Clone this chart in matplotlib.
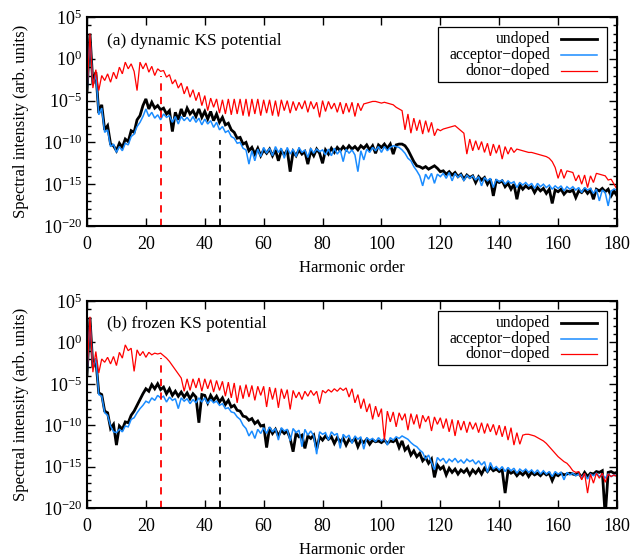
import numpy as np
import matplotlib
matplotlib.use('Agg')
import matplotlib.pyplot as plt
from matplotlib.ticker import FixedLocator, NullFormatter, FuncFormatter
from matplotlib.patches import Rectangle
from matplotlib.lines import Line2D

plt.rcParams['font.family'] = ['Liberation Serif', 'DejaVu Serif']
plt.rcParams['mathtext.fontset'] = 'custom'
plt.rcParams['mathtext.rm'] = 'Liberation Serif'
plt.rcParams['mathtext.it'] = 'Liberation Serif:italic'
plt.rcParams['font.size'] = 12

# harmonic orders 0..180
harmonics = np.arange(0, 181)

# log10 of the spectral intensity, one value per harmonic order
# (a) dynamic KS potential
dyn_undoped = [
    -4.0, 3.0, -3.0, -1.6, -6.5, -5.5, -8.5, -8.0, -10.2, -10.4,
    -11.0, -10.1, -10.6, -9.6, -9.9, -8.6, -8.8, -7.3, -6.8, -5.6,
    -4.8, -6.0, -5.2, -5.9, -5.6, -6.1, -5.9, -6.6, -6.2, -8.7,
    -6.4, -7.3, -6.0, -6.9, -5.9, -6.6, -6.2, -6.9, -6.0, -7.0,
    -6.3, -7.2, -6.3, -7.4, -6.6, -7.6, -7.0, -7.9, -7.7, -8.5,
    -8.8, -9.5, -9.4, -10.2, -10.0, -11.0, -10.6, -11.4, -10.7, -11.6,
    -10.9, -11.3, -10.8, -11.6, -10.9, -12.2, -11.0, -11.5, -10.9, -13.5,
    -11.1, -11.6, -10.9, -11.4, -11.1, -12.6, -11.0, -11.6, -10.8, -11.3,
    -12.5, -10.9, -11.4, -10.7, -11.2, -10.6, -11.0, -10.5, -10.9, -10.4,
    -10.8, -10.5, -10.9, -10.4, -10.7, -10.3, -10.9, -10.4, -11.3, -10.3,
    -10.6, -10.2, -10.7, -10.2, -11.4, -10.3, -10.2, -10.2, -10.4, -10.9,
    -11.6, -12.3, -12.8, -12.9, -13.1, -12.9, -13.2, -13.0, -12.8, -13.1,
    -13.5, -13.4, -13.8, -13.5, -13.9, -13.6, -14.1, -13.8, -14.4, -13.9,
    -14.2, -14.0, -14.8, -14.1, -14.5, -14.2, -15.0, -14.4, -16.4, -14.6,
    -14.8, -14.6, -15.3, -14.9, -15.6, -15.0, -16.8, -15.1, -15.6, -15.2,
    -15.5, -15.3, -16.0, -15.4, -15.8, -15.5, -16.1, -15.6, -17.3, -15.7,
    -15.9, -15.6, -16.2, -15.8, -15.9, -15.7, -16.6, -15.8, -16.0, -15.6,
    -16.1, -15.7, -16.8, -15.6, -15.8, -15.5, -15.9, -15.6, -16.4, -15.8,
    -16.4,
]
dyn_acceptor = [
    -4.0, 2.8, -3.2, -1.8, -6.7, -5.9, -8.8, -8.5, -10.5, -10.2,
    -11.2, -10.5, -11.0, -10.1, -10.3, -9.3, -9.0, -8.1, -7.6, -6.9,
    -6.0, -6.9, -6.4, -7.1, -6.7, -7.3, -6.6, -7.0, -6.8, -7.6,
    -6.9, -7.8, -6.9, -7.4, -7.0, -7.5, -6.9, -7.6, -7.1, -7.9,
    -7.2, -7.8, -7.4, -8.2, -7.6, -8.5, -8.1, -8.8, -8.6, -9.3,
    -9.5, -10.1, -10.0, -10.7, -10.9, -12.6, -11.0, -12.2, -10.8, -11.7,
    -10.6, -11.3, -10.7, -11.6, -10.5, -11.2, -10.7, -11.9, -10.6, -11.4,
    -10.8, -11.7, -10.6, -11.2, -10.9, -11.8, -10.7, -11.3, -10.8, -11.1,
    -10.9, -11.5, -10.8, -11.6, -10.7, -11.4, -10.9, -12.3, -10.8, -11.3,
    -10.9, -11.5, -13.5, -11.0, -12.1, -10.8, -11.2, -10.6, -11.0, -10.5,
    -11.2, -10.5, -11.0, -10.6, -10.4, -10.5, -10.6, -10.9, -11.3, -11.9,
    -12.2, -12.9, -13.4, -14.0, -15.2, -13.8, -14.4, -13.7, -14.9, -13.8,
    -14.1, -13.7, -14.3, -13.6, -14.6, -13.7, -14.2, -13.8, -14.6, -13.9,
    -14.3, -14.0, -14.5, -14.1, -15.2, -14.2, -14.6, -14.3, -15.4, -14.4,
    -14.7, -14.5, -15.0, -14.6, -14.9, -14.7, -15.4, -14.8, -15.1, -14.8,
    -15.2, -14.9, -15.5, -14.9, -15.3, -15.0, -15.4, -15.1, -15.6, -15.2,
    -15.5, -15.2, -15.8, -15.3, -15.6, -15.3, -15.7, -15.4, -16.0, -15.4,
    -15.7, -15.5, -16.1, -15.6, -17.0, -15.7, -16.0, -17.6, -15.8, -15.6,
    -15.7,
]
dyn_donor = [
    -4.0, 3.0, -3.5, -1.3, -3.8, -2.0, -2.6, -1.8, -2.8, -1.6,
    -2.4, -1.0, -1.8, -0.4, -1.2, -0.6, -1.5, -3.8, -0.4, -1.2,
    -0.5, -1.6, -0.9, -2.0, -1.2, -1.5, -1.4, -2.2, -1.9, -3.0,
    -2.5, -3.5, -2.9, -4.2, -3.3, -4.6, -3.7, -5.0, -4.0, -5.6,
    -4.4, -6.2, -4.7, -5.8, -4.8, -6.5, -4.9, -6.6, -4.8, -6.7,
    -4.8, -6.6, -4.8, -6.8, -4.8, -6.9, -4.8, -6.6, -4.8, -6.8,
    -4.9, -6.5, -4.9, -6.8, -5.0, -6.9, -4.9, -6.2, -5.0, -6.5,
    -5.1, -6.2, -5.2, -6.0, -5.0, -6.4, -5.1, -6.0, -5.2, -7.0,
    -5.0, -6.3, -5.1, -6.0, -5.3, -6.4, -5.2, -6.6, -5.3, -6.4,
    -5.2, -6.9, -5.3, -6.2, -5.4, -5.3, -5.2, -5.1, -5.1, -5.2,
    -5.3, -5.2, -5.3, -5.4, -5.5, -5.8, -6.0, -6.2, -8.5, -6.6,
    -8.9, -7.1, -8.6, -7.3, -9.0, -7.4, -8.8, -7.6, -9.2, -8.4,
    -8.6, -8.4, -8.3, -8.2, -8.1, -8.0, -8.3, -8.6, -8.9, -11.4,
    -9.6, -11.0, -9.8, -10.9, -9.9, -11.2, -10.1, -11.6, -10.2, -11.3,
    -10.3, -12.0, -10.5, -11.4, -10.6, -11.2, -10.8, -10.9, -11.0, -11.1,
    -11.2, -11.2, -11.3, -11.4, -11.5, -11.6, -11.7, -11.9, -12.3, -13.0,
    -14.3, -13.2, -14.3, -13.4, -13.5, -13.6, -14.6, -13.9, -15.0, -13.9,
    -15.4, -14.0, -14.8, -13.7, -13.8, -13.9, -14.0, -14.5, -14.4, -15.0,
    -15.6,
]

# (b) frozen KS potential
frz_undoped = [
    -4.0, 3.0, -3.0, -2.1, -6.1, -6.3, -8.3, -8.5, -10.4, -9.9,
    -12.4, -10.1, -10.5, -9.6, -9.7, -8.8, -8.3, -7.6, -6.9, -6.2,
    -5.6, -5.9, -5.1, -5.6, -5.0, -5.7, -5.4, -6.2, -5.6, -6.4,
    -5.9, -6.5, -6.0, -6.6, -6.1, -6.8, -6.2, -6.6, -9.7, -6.3,
    -6.4, -7.3, -6.4, -7.0, -6.5, -7.2, -6.7, -7.5, -7.0, -7.8,
    -7.6, -8.2, -8.3, -8.9, -9.0, -9.4, -9.2, -9.8, -9.5, -10.1,
    -10.0, -12.7, -10.3, -11.0, -10.5, -11.3, -10.6, -11.0, -10.7, -11.6,
    -13.2, -11.0, -11.4, -11.2, -12.8, -11.3, -11.6, -11.2, -12.9, -11.4,
    -11.8, -11.3, -11.7, -11.4, -12.2, -11.5, -12.0, -11.6, -12.4, -11.7,
    -12.0, -11.6, -12.6, -11.8, -12.1, -11.7, -12.3, -11.8, -12.0, -11.9,
    -12.1, -11.8, -12.2, -11.9, -12.0, -11.7, -12.7, -11.9, -13.0, -12.6,
    -13.6, -13.1, -13.8, -13.4, -14.3, -13.9, -14.6, -14.1, -16.3, -14.8,
    -15.3, -15.0, -16.0, -15.2, -15.7, -15.3, -15.9, -15.4, -15.7, -15.3,
    -16.0, -15.4, -15.8, -15.3, -15.9, -15.2, -15.6, -15.1, -15.5, -15.3,
    -15.6, -15.4, -18.2, -15.5, -15.8, -15.6, -16.1, -15.7, -16.0, -15.6,
    -16.2, -15.7, -16.0, -15.8, -16.1, -15.7, -16.0, -15.8, -16.7, -15.9,
    -16.1, -15.8, -16.0, -15.9, -15.8, -15.9, -16.0, -15.8, -16.3, -15.7,
    -16.2, -15.8, -15.9, -15.6, -15.7, -15.5, -21.0, -15.7, -15.6, -15.8,
    -15.7,
]
frz_acceptor = [
    -4.0, 2.9, -3.1, -1.9, -6.3, -6.5, -8.5, -8.8, -10.1, -10.8,
    -10.9, -10.5, -10.8, -10.1, -10.2, -9.3, -9.1, -8.5, -8.0, -7.6,
    -7.1, -7.3, -6.7, -7.0, -6.4, -6.7, -6.5, -7.2, -6.6, -7.0,
    -6.8, -8.0, -6.7, -7.1, -6.8, -7.4, -6.9, -7.3, -6.7, -7.2,
    -6.7, -7.4, -6.9, -7.3, -7.1, -7.6, -7.4, -8.0, -7.9, -8.4,
    -8.5, -9.0, -9.3, -10.0, -10.4, -11.3, -10.7, -11.6, -10.5, -11.0,
    -10.3, -11.0, -10.2, -10.8, -10.4, -11.8, -10.3, -10.7, -10.5, -11.9,
    -10.4, -10.9, -10.6, -12.6, -10.5, -11.2, -10.7, -11.3, -13.5, -10.8,
    -11.1, -10.9, -11.8, -10.8, -11.2, -11.0, -12.8, -11.1, -11.5, -11.2,
    -12.2, -11.3, -11.7, -11.4, -12.9, -11.5, -11.8, -11.6, -12.0, -11.5,
    -11.9, -11.6, -12.4, -11.5, -11.8, -11.4, -11.6, -11.3, -11.5, -11.7,
    -12.1, -12.4, -12.6, -13.0, -13.3, -14.1, -13.6, -14.5, -15.4, -13.9,
    -14.3, -14.0, -14.6, -14.1, -14.4, -14.0, -14.5, -14.2, -14.6, -14.1,
    -14.4, -14.2, -14.7, -14.3, -14.8, -14.4, -15.7, -14.5, -15.3, -15.0,
    -15.4, -15.0, -15.6, -15.1, -15.5, -15.2, -15.8, -15.3, -15.6, -15.3,
    -15.7, -15.4, -15.8, -15.4, -15.9, -15.5, -15.9, -15.6, -16.2, -15.6,
    -15.9, -15.7, -16.6, -15.7, -16.0, -15.8, -16.1, -15.9, -16.3, -15.9,
    -16.5, -15.9, -16.1, -15.8, -16.2, -15.9, -16.4, -15.9, -16.2, -16.0,
    -16.1,
]
frz_donor = [
    -4.0, 3.1, -3.6, -1.1, -3.7, -2.0, -2.4, -1.8, -2.6, -1.7,
    -2.8, -1.2, -1.9, -0.3, -1.0, -0.7, -3.5, -0.9, -1.6, -1.1,
    -1.8, -1.2, -1.5, -1.3, -1.4, -1.3, -1.6, -1.9, -2.3, -2.8,
    -3.3, -3.8, -4.3, -5.9, -4.4, -5.8, -4.4, -5.5, -4.3, -5.9,
    -4.4, -5.6, -4.5, -6.0, -4.6, -5.8, -4.7, -6.5, -4.8, -6.7,
    -4.9, -7.3, -5.2, -6.8, -5.1, -6.6, -5.2, -7.0, -5.3, -6.4,
    -5.3, -7.8, -5.4, -6.9, -5.5, -7.9, -5.6, -6.8, -5.7, -8.1,
    -5.8, -6.7, -6.0, -6.9, -5.9, -6.5, -5.8, -6.4, -5.9, -7.4,
    -5.8, -6.1, -5.7, -6.0, -5.6, -5.9, -5.5, -5.8, -5.5, -6.6,
    -5.6, -7.3, -6.3, -8.0, -6.8, -8.4, -7.4, -9.3, -7.7, -9.0,
    -8.0, -11.8, -8.3, -9.6, -8.4, -10.2, -8.5, -9.4, -8.6, -10.6,
    -8.6, -9.9, -8.7, -10.4, -8.8, -9.6, -8.9, -10.7, -9.0, -9.9,
    -9.1, -10.4, -9.2, -10.8, -9.3, -11.3, -9.4, -10.6, -9.5, -10.9,
    -9.6, -10.5, -9.7, -10.9, -9.7, -11.0, -9.8, -10.8, -9.9, -11.2,
    -10.0, -11.4, -10.1, -11.8, -10.3, -12.4, -10.9, -12.3, -11.2, -11.1,
    -11.1, -11.2, -11.3, -11.5, -11.7, -11.9, -12.2, -12.6, -13.0, -13.4,
    -13.8, -14.1, -14.4, -14.6, -15.0, -15.5, -15.7, -15.6, -16.6, -15.8,
    -18.2, -15.9, -17.0, -15.8, -16.4, -15.8, -16.9, -15.9, -16.2, -16.0,
    -16.2,
]

series_labels = ['undoped', 'acceptor\u2212doped', 'donor\u2212doped']
series_colors = ['#000000', '#1a8cff', '#ff0000']
series_widths = [2.0, 1.1, 0.9]

panel_titles = ['(a) dynamic KS potential', '(b) frozen KS potential']

# dashed cutoff markers: harmonic order and top (log10) of each line
cutoff_orders = [25, 45]
cutoff_colors = ['#ff0000', '#000000']
cutoff_tops = [[-2.0, -9.7], [-1.9, -9.5]]

panels = [[dyn_undoped, dyn_acceptor, dyn_donor],
          [frz_undoped, frz_acceptor, frz_donor]]

W, H = 634, 557
fig = plt.figure(figsize=(W / 100, H / 100), dpi=100)
boxes = [(87, 17, 617, 226), (87, 301, 617, 508)]

major_y = [10.0 ** e for e in range(-20, 6, 5)]
minor_y = [10.0 ** e for e in range(-20, 6) if e % 5 != 0]


def fmt_pow(v, pos):
    e = int(round(np.log10(v)))
    return r'$10^{%d}$' % e


for i, (l, t, r, b) in enumerate(boxes):
    ax = fig.add_axes([l / W, 1 - b / H, (r - l) / W, (b - t) / H])
    floor = 1e-20
    for vals, c, lw in zip(panels[i], series_colors, series_widths):
        y = np.clip(10.0 ** np.array(vals), floor * 1e-2, None)
        ax.plot(harmonics, y, color=c, lw=lw, solid_joinstyle='miter')
    for xc, col, top in zip(cutoff_orders, cutoff_colors, cutoff_tops[i]):
        ax.plot([xc, xc], [floor, 10.0 ** top], color=col, lw=1.3,
                dashes=(4, 3.5))

    ax.set_xlim(0, 180)
    ax.set_ylim(1e-20, 1e5)
    ax.set_yscale('log')
    ax.yaxis.set_major_locator(FixedLocator(major_y))
    ax.yaxis.set_minor_locator(FixedLocator(minor_y))
    ax.yaxis.set_major_formatter(FuncFormatter(fmt_pow))
    ax.yaxis.set_minor_formatter(NullFormatter())
    ax.set_xticks(range(0, 181, 20))
    ax.tick_params(which='both', direction='in', top=True, right=True,
                   labelsize=13, width=1.0)
    ax.tick_params(which='major', length=6)
    ax.tick_params(which='minor', length=3)
    ax.tick_params(axis='x', pad=7)
    for s in ax.spines.values():
        s.set_linewidth(1.5)

    ax.set_xlabel('Harmonic order', fontsize=12, labelpad=5)
    ax.set_ylabel('Spectral intensity (arb. units)', fontsize=12, labelpad=10)
    ax.text(0.038, 0.887, panel_titles[i], transform=ax.transAxes,
            fontsize=12.4, ha='left', va='center')

    # key box
    ax.add_patch(Rectangle((0.662, 0.689), 0.319, 0.263,
                           transform=ax.transAxes, fill=True, fc='white',
                           ec='black', lw=0.9, zorder=5))
    for k, (lab, c, lw) in enumerate(zip(series_labels, series_colors,
                                         series_widths)):
        yk = 0.893 - k * 0.075
        ax.text(0.874, yk, lab, transform=ax.transAxes, ha='right',
                va='center', fontsize=11.3, zorder=6)
        ax.add_line(Line2D([0.894, 0.962], [yk, yk], transform=ax.transAxes,
                           color=c, lw=lw, zorder=6))

fig.savefig('out.png', dpi=100)
